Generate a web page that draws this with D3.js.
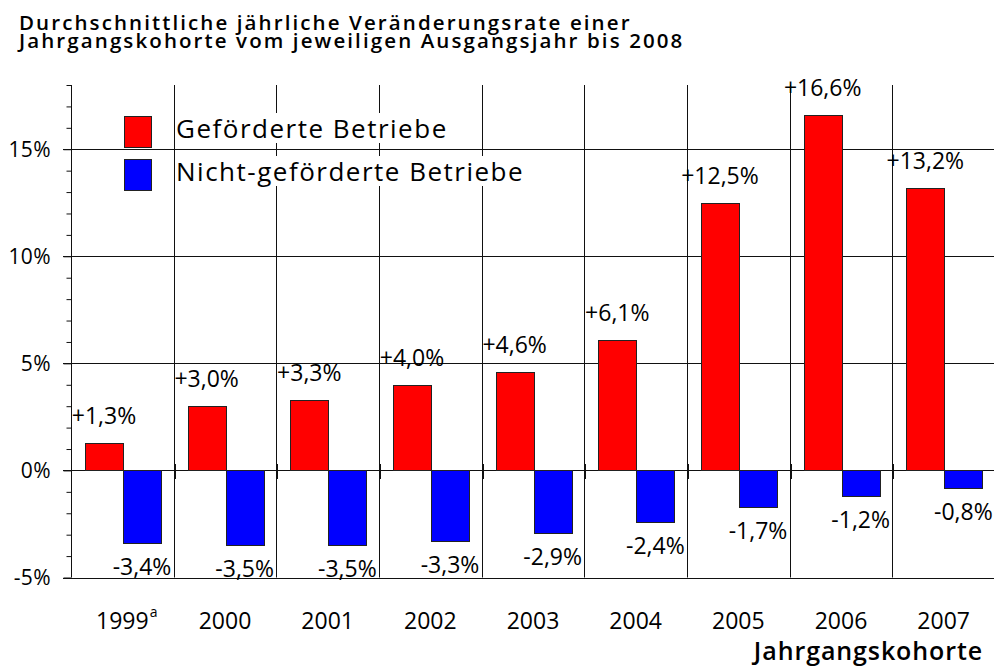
<!DOCTYPE html>
<html><head><meta charset="utf-8">
<script src="https://cdn.jsdelivr.net/npm/d3@7"></script>
<style>
body{margin:0;background:#fff}
svg text{font-family:"Open Sans",sans-serif;fill:#000}
</style>
</head><body>
<svg id="chart" width="994" height="667"></svg>
<script>
const titleLines = ["Durchschnittliche jährliche Veränderungsrate einer", "Jahrgangskohorte vom jeweiligen Ausgangsjahr bis 2008"];
const categories = ["1999","2000","2001","2002","2003","2004","2005","2006","2007"];
const categoryNotes = ["a","","","","","","","",""];
const gefoerdert = [1.3, 3.0, 3.3, 4.0, 4.6, 6.1, 12.5, 16.6, 13.2];
const nichtGefoerdert = [-3.4, -3.5, -3.5, -3.3, -2.9, -2.4, -1.7, -1.2, -0.8];
const seriesNames = ["Geförderte Betriebe", "Nicht-geförderte Betriebe"];
const seriesColors = ["#ff0000", "#0000ff"];
const yMajorTicks = [-5, 0, 5, 10, 15];
const xAxisTitle = "Jahrgangskohorte";

const svg = d3.select("#chart");
const W = 994, H = 667;
const plot = {left: 71, right: 995, top: 85, bottom: 577.5};

const x = d3.scaleBand().domain(categories).range([plot.left, plot.right]).paddingInner(0).paddingOuter(0);
const sub = d3.scaleBand().domain([0, 1]).range([0, 76]);
const barOffset = 14;
const y = d3.scaleLinear().domain([-5, 18]).range([plot.bottom, plot.top]);

const fmt = v => (v > 0 ? "+" : "") + v.toFixed(1).replace(".", ",") + "%";

// Title
titleLines.forEach((l, i) => {
  svg.append("text").attr("x", 19).attr("y", 30 + i * 18)
    .style("font-weight", 600).style("font-size", "20.5px").style("letter-spacing", "2.1px").text(l);
});

// horizontal grid lines
svg.append("g").selectAll("line").data(yMajorTicks).join("line")
  .attr("x1", plot.left - 8).attr("x2", W)
  .attr("y1", d => Math.round(y(d)) + 0.5).attr("y2", d => Math.round(y(d)) + 0.5)
  .attr("stroke", "#111").attr("stroke-width", 1);

// vertical category separator lines
const sepX = categories.map(c => x(c)).concat([plot.right]);
svg.append("g").selectAll("line").data(sepX.slice(1)).join("line")
  .attr("x1", d => Math.round(d) + 0.5).attr("x2", d => Math.round(d) + 0.5)
  .attr("y1", plot.top).attr("y2", plot.bottom)
  .attr("stroke", "#111").attr("stroke-width", 1);
// tick stubs on zero line
svg.append("g").selectAll("line").data(sepX.slice(1)).join("line")
  .attr("x1", d => Math.round(d) + 1).attr("x2", d => Math.round(d) + 1)
  .attr("y1", Math.round(y(0)) - 6).attr("y2", Math.round(y(0)) + 9)
  .attr("stroke", "#111").attr("stroke-width", 2);

// y axis
const yAxisG = svg.append("g").attr("transform", `translate(${plot.left + 0.5},0)`);
yAxisG.call(d3.axisLeft(y).tickValues(d3.range(-5, 19, 1)).tickSize(5).tickFormat(""));
yAxisG.select(".domain").attr("stroke", "#111").attr("d", `M0,${plot.top}V${plot.bottom}`);
yAxisG.selectAll(".tick line").attr("stroke", "#111");
yAxisG.selectAll(".tick").filter(d => yMajorTicks.includes(d)).select("line").attr("x2", -8);
svg.append("g").selectAll("text").data(yMajorTicks).join("text")
  .attr("x", 51).attr("y", d => y(d) + 7.5).attr("text-anchor", "end")
  .style("font-size", "21px").style("letter-spacing", "0.4px").text(d => d + "%");

// bars
const bars = svg.append("g");
bars.selectAll("rect.g").data(gefoerdert).join("rect").attr("class", "g")
  .attr("x", (d, i) => Math.round(x(categories[i]) + barOffset + sub(0)) + 0.5)
  .attr("width", sub.bandwidth())
  .attr("y", d => Math.round(y(d)) + 0.5)
  .attr("height", d => Math.round(y(0)) - Math.round(y(d)))
  .attr("fill", seriesColors[0]).attr("stroke", "#222").attr("stroke-width", 1);
bars.selectAll("rect.n").data(nichtGefoerdert).join("rect").attr("class", "n")
  .attr("x", (d, i) => Math.round(x(categories[i]) + barOffset + sub(1)) + 0.5)
  .attr("width", sub.bandwidth())
  .attr("y", d => Math.round(y(0)) + 0.5)
  .attr("height", d => Math.round(y(d)) - Math.round(y(0)))
  .attr("fill", seriesColors[1]).attr("stroke", "#222").attr("stroke-width", 1);

// value labels
const labels = svg.append("g").style("font-size", "23px").attr("text-anchor", "middle");
labels.selectAll("text.g").data(gefoerdert).join("text").attr("class", "g")
  .attr("x", (d, i) => x(categories[i]) + barOffset + sub(0) + sub.bandwidth() / 2)
  .attr("y", d => y(d) - 19).text(fmt);
labels.selectAll("text.n").data(nichtGefoerdert).join("text").attr("class", "n")
  .attr("x", (d, i) => x(categories[i]) + barOffset + sub(1) + sub.bandwidth() / 2)
  .attr("y", d => Math.min(y(d) + 32, plot.bottom - 1)).text(fmt);

// x labels
const xl = svg.append("g");
categories.forEach((c, i) => {
  const cx = x(c) + x.bandwidth() / 2;
  const t = xl.append("text").attr("x", cx).attr("y", 629).attr("text-anchor", "middle")
    .style("font-size", "23px").text(c);
  if (categoryNotes[i]) {
    const w = t.node().getComputedTextLength();
    xl.append("text").attr("x", cx + w / 2 + 1).attr("y", 617)
      .style("font-size", "14px").text(categoryNotes[i]);
  }
});
svg.append("text").attr("x", 983).attr("y", 660).attr("text-anchor", "end")
  .style("font-size", "25px").style("font-weight", 600).style("letter-spacing", "0.9px").text(xAxisTitle);

// legend
const lg = svg.append("g");
seriesNames.forEach((name, i) => {
  const yy = 116 + i * 43;
  const t = lg.append("text").attr("x", 176).attr("y", yy + 22)
    .style("font-size", "26px").style("letter-spacing", "1.5px").text(name);
  const bb = t.node().getBBox();
  lg.insert("rect", "text").attr("x", bb.x - 1).attr("y", bb.y + 3).attr("width", bb.width + 2).attr("height", bb.height - 6)
    .attr("fill", "#fff");
  lg.append("rect").attr("x", 124.5).attr("y", yy + 0.5).attr("width", 27).attr("height", 31)
    .attr("fill", seriesColors[i]).attr("stroke", "#222").attr("stroke-width", 1);
});
</script>
</body></html>
